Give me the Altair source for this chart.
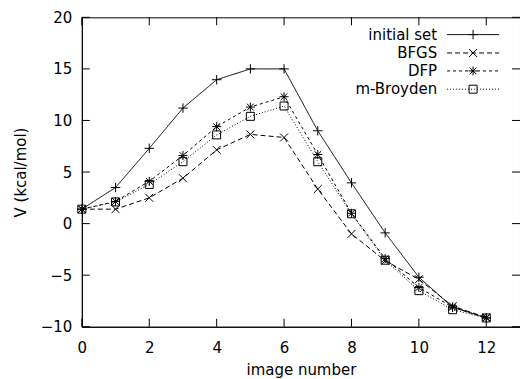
import altair as alt
import pandas as pd

# data
image_number = list(range(13))
initial_set = [1.4, 3.5, 7.3, 11.2, 13.95, 15.0, 15.0, 9.0, 3.95, -0.9, -5.2, -8.1, -9.15]
bfgs = [1.4, 1.4, 2.5, 4.4, 7.15, 8.65, 8.35, 3.35, -1.0, -3.6, -5.4, -8.0, -9.1]
dfp = [1.4, 2.15, 4.1, 6.6, 9.4, 11.3, 12.3, 6.7, 1.0, -3.4, -6.2, -8.1, -9.15]
m_broyden = [1.4, 2.1, 3.8, 6.0, 8.6, 10.4, 11.4, 6.0, 0.95, -3.55, -6.5, -8.35, -9.15]

series_names = ["initial set", "BFGS", "DFP", "m-Broyden"]
series_values = [initial_set, bfgs, dfp, m_broyden]

x_ticks = [0, 2, 4, 6, 8, 10, 12]
y_ticks = [-10, -5, 0, 5, 10, 15, 20]

W, H = 439, 310
FONT = "DejaVu Sans"

PLUS = "M-1,0L1,0M0,-1L0,1"
XMARK = "M-1,-1L1,1M-1,1L1,-1"
STAR = "M-1,0L1,0M0,-1L0,1M-0.75,-0.75L0.75,0.75M-0.75,0.75L0.75,-0.75"
styles = [
    dict(dash=[1, 0], shape=PLUS, size=90),
    dict(dash=[5, 3], shape=XMARK, size=64),
    dict(dash=[3, 3], shape=STAR, size=81),
    dict(dash=[1, 2], shape="square", size=64),
]

xscale = alt.Scale(domain=[0, 13], nice=False, zero=False)
yscale = alt.Scale(domain=[-10, 20], nice=False, zero=False)

layers = []
for i, (name, vals) in enumerate(zip(series_names, series_values)):
    df = pd.DataFrame({"x": image_number, "y": vals, "series": name})
    st = styles[i]
    if i == 0:
        xenc = alt.X("x:Q", scale=xscale,
                     axis=alt.Axis(values=x_ticks, title="image number", grid=False,
                                   ticks=False, tickSize=0, labelPadding=14,
                                   labelFont=FONT, labelFontSize=15, labelColor="black",
                                   titleFont=FONT, titleFontSize=15, titleFontWeight="normal",
                                   titleColor="black", titlePadding=7,
                                   domainColor="black", labelFlush=False))
        yenc = alt.Y("y:Q", scale=yscale,
                     axis=alt.Axis(values=y_ticks, title="V (kcal/mol)", grid=False,
                                   ticks=False, tickSize=0, labelPadding=10,
                                   labelFont=FONT, labelFontSize=15, labelColor="black",
                                   titleFont=FONT, titleFontSize=15, titleFontWeight="normal",
                                   titleColor="black", titlePadding=12,
                                   domainColor="black", labelFlush=False))
    else:
        xenc = alt.X("x:Q", scale=xscale)
        yenc = alt.Y("y:Q", scale=yscale)
    line = alt.Chart(df).mark_line(color="black", strokeWidth=1, strokeDash=st["dash"]).encode(x=xenc, y=yenc)
    pts = alt.Chart(df).mark_point(shape=st["shape"], size=st["size"], filled=False,
                                   color="black", strokeWidth=1, opacity=1).encode(
        x=alt.X("x:Q", scale=xscale), y=alt.Y("y:Q", scale=yscale))
    layers += [line, pts]

# inward ticks on all four sides
xt = pd.DataFrame({"t": x_ticks})
yt = pd.DataFrame({"t": y_ticks})
tick_style = dict(color="black", strokeWidth=1)
layers.append(alt.Chart(xt).mark_rule(**tick_style).encode(
    x=alt.X("t:Q", scale=xscale), y=alt.value(H), y2=alt.value(H - 8)))
layers.append(alt.Chart(xt).mark_rule(**tick_style).encode(
    x=alt.X("t:Q", scale=xscale), y=alt.value(0), y2=alt.value(8)))
layers.append(alt.Chart(yt).mark_rule(**tick_style).encode(
    y=alt.Y("t:Q", scale=yscale), x=alt.value(0), x2=alt.value(8)))
layers.append(alt.Chart(yt).mark_rule(**tick_style).encode(
    y=alt.Y("t:Q", scale=yscale), x=alt.value(W), x2=alt.value(W - 8)))

# legend (gnuplot style: label left of sample)
legend_rows = [17.3, 35.7, 53.7, 72.0]
leg_df = pd.DataFrame({"one": [0]})
for i, name in enumerate(series_names):
    st = styles[i]
    ry = legend_rows[i]
    layers.append(alt.Chart(leg_df).mark_text(
        text=name, font=FONT, fontSize=15, align="right", baseline="middle", color="black").encode(
        x=alt.value(356), y=alt.value(ry)))
    layers.append(alt.Chart(leg_df).mark_rule(color="black", strokeWidth=1, strokeDash=st["dash"]).encode(
        x=alt.value(366), x2=alt.value(418), y=alt.value(ry)))
    layers.append(alt.Chart(leg_df).mark_point(shape=st["shape"], size=st["size"], filled=False,
                                               color="black", strokeWidth=1, opacity=1).encode(
        x=alt.value(392), y=alt.value(ry)))

chart = alt.layer(*layers).properties(
    width=W, height=H,
    autosize=alt.AutoSizeParams(type="none"),
    padding={"left": 82, "top": 17, "right": 0, "bottom": 52},
    background="white",
).configure_view(stroke="black", strokeWidth=1)

chart.save("out.html", embed_options={"renderer": "svg", "actions": False})
